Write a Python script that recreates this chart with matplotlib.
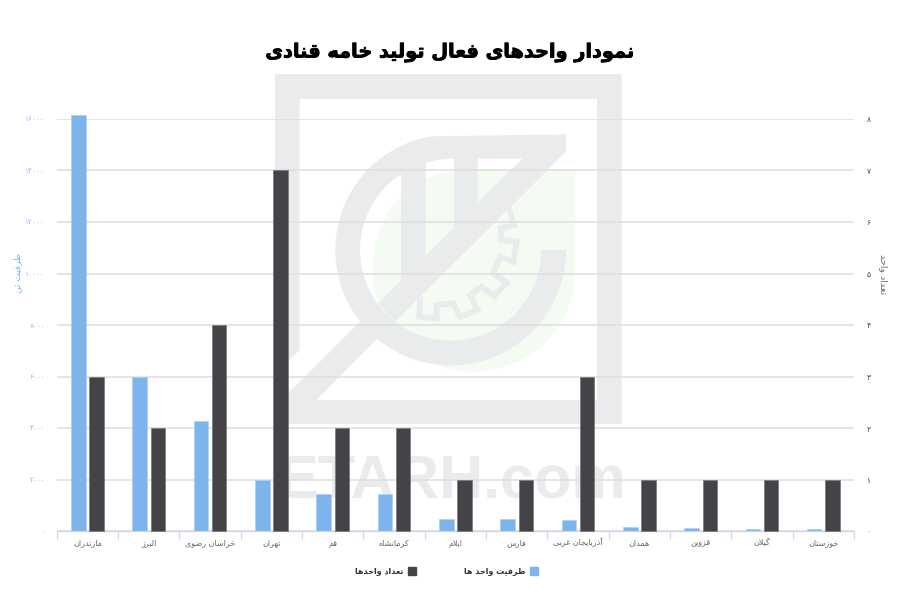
import numpy as np
from matplotlib import patheffects, pyplot as plt
from matplotlib.patches import Patch, PathPatch, Polygon, Wedge
from matplotlib.path import Path

categories = ["مازندران", "البرز", "خراسان رضوی", "تهران", "قم", "کرمانشاه", "ایلام",
              "فارس", "آذربایجان غربی", "همدان", "قزوین", "گیلان", "خوزستان"]
capacity = [16150, 6000, 4270, 2000, 1450, 1450, 460, 460, 430, 140, 110, 65, 65]
units = [3, 2, 4, 7, 2, 2, 1, 1, 3, 1, 1, 1, 1]
capacity_ticks = [0, 2000, 4000, 6000, 8000, 10000, 12000, 14000, 16000]
units_ticks = [0, 1, 2, 3, 4, 5, 6, 7, 8]

title = "نمودار واحدهای فعال تولید خامه قنادی"
capacity_name = "ظرفیت واحد ها"
units_name = "تعداد واحدها"
capacity_axis = "ظرفیت تن"
units_axis = "تعداد واحد"

BLUE = "#7cb5ec"
DARK = "#434348"
MARK = "#eaebed"

# matplotlib does no Arabic shaping, so pick presentation forms by hand
FOUR_FORMS = {"ب": 0xFE8F, "پ": 0xFB56, "ت": 0xFE95, "ج": 0xFE9D, "ح": 0xFEA1, "خ": 0xFEA5,
              "س": 0xFEB1, "ش": 0xFEB5, "ص": 0xFEB9, "ض": 0xFEBD, "ط": 0xFEC1, "ظ": 0xFEC5,
              "ع": 0xFEC9, "غ": 0xFECD, "ف": 0xFED1, "ق": 0xFED5, "ک": 0xFB8E, "گ": 0xFB92,
              "ل": 0xFEDD, "م": 0xFEE1, "ن": 0xFEE5, "ه": 0xFEE9, "ی": 0xFBFC}
TWO_FORMS = {"ا": 0xFE8D, "آ": 0xFE81, "د": 0xFEA9, "ذ": 0xFEAB, "ر": 0xFEAD, "ز": 0xFEAF,
             "ژ": 0xFB8A, "و": 0xFEED}


def shape(text):
    text = text.replace("لا", "\uFEFB")
    out = []
    for i, ch in enumerate(text):
        prev = text[i - 1] if i > 0 else " "
        nxt = text[i + 1] if i + 1 < len(text) else " "
        joins_prev = prev in FOUR_FORMS
        joins_next = nxt in FOUR_FORMS or nxt in TWO_FORMS or nxt == "\uFEFB"
        if ch == "\uFEFB":
            out.append("\uFEFC" if joins_prev else ch)
        elif ch in FOUR_FORMS:
            form = (1 if joins_prev else 0) if not joins_next else (3 if joins_prev else 2)
            out.append(chr(FOUR_FORMS[ch] + form))
        elif ch in TWO_FORMS:
            out.append(chr(TWO_FORMS[ch] + (1 if joins_prev else 0)))
        else:
            out.append(ch)
    return "".join(reversed(out))


def fa_digits(n):
    return "".join(chr(0x06F0 + int(d)) for d in str(n))


def zoomed(points):
    return [(260 + x / 3, 60 + y / 3) for x, y in points]


def ring_path(outer, *holes):
    verts, codes = [], []
    for i, loop in enumerate((outer, *holes)):
        # holes must wind the other way round
        loop = zoomed(loop)
        loop = loop if i == 0 else loop[::-1]
        verts += loop + [loop[0]]
        codes += [Path.MOVETO] + [Path.LINETO] * (len(loop) - 1) + [Path.CLOSEPOLY]
    return Path(verts, codes)


def draw_watermark(fig):
    bg = fig.add_axes([0, 0, 1, 1], zorder=0)
    bg.set_xlim(0, 900)
    bg.set_ylim(600, 0)
    bg.axis("off")

    blob = Path(zoomed([(946, 328), (600, 328), (440, 345), (338, 470), (338, 630),
                        (338, 800), (470, 935), (640, 935), (810, 935), (946, 800),
                        (946, 630), (946, 328)]),
                [Path.MOVETO, Path.LINETO] + [Path.CURVE4] * 9 + [Path.CLOSEPOLY])
    bg.add_patch(PathPatch(blob, fc="#f4fbf2", ec="none"))

    frame = ring_path([(45, 42), (45, 1092), (1085, 1092), (1085, 42)],
                      [(119, 117), (119, 870), (83, 905), (83, 1000), (119, 965),
                       (119, 1020), (1011, 1020), (1011, 117)])
    bg.add_patch(PathPatch(frame, fc=MARK, ec="none"))
    bg.add_patch(Polygon(zoomed([(300, 785), (350, 838), (170, 1020), (100, 1060), (60, 1025)]),
                         fc=MARK, ec="none"))

    cx, cy = zoomed([(572, 570)])[0]
    bg.add_patch(Wedge((cx, cy), 346 / 3, 0, 260, width=74 / 3, fc=MARK, ec="none"))
    body = ring_path([(512, 229), (423, 340), (423, 662), (355, 730), (405, 785), (918, 275), (918, 223)],
                     [(497, 303), (497, 588), (582, 503), (582, 295)],
                     [(653, 296), (653, 428), (787, 296)])
    bg.add_patch(PathPatch(body, fc=MARK, ec="none"))

    gear = zoomed([(745, 440), (762, 495), (722, 505), (725, 540), (770, 545), (760, 605),
                   (720, 590), (700, 640), (740, 668), (703, 708), (665, 680), (630, 705),
                   (652, 750), (600, 770), (580, 730), (530, 735), (530, 775), (478, 770),
                   (480, 720)])
    bg.plot(*zip(*gear), color=MARK, lw=4.2, solid_joinstyle="miter")

    bg.text(452, 498, "ETARH.com", color=MARK, fontsize=44, fontweight="bold",
            family="Liberation Sans", ha="center", va="baseline")


if __name__ == "__main__":
    plt.rcParams["font.family"] = ["DejaVu Sans"]
    fig = plt.figure(figsize=(9, 6), dpi=100)
    draw_watermark(fig)

    ax = fig.add_axes([56.7 / 900, 69 / 600, 797.3 / 900, 412 / 600], zorder=1)
    ax.patch.set_alpha(0)
    ax2 = ax.twinx()
    ax2.set_zorder(2)
    ax2.patch.set_alpha(0)

    x = np.arange(len(categories))
    ax.bar(x - 0.148, capacity, 0.236, color=BLUE, edgecolor="#a9d0f5", linewidth=0.5,
           clip_on=False, zorder=3)
    ax2.bar(x + 0.148, units, 0.236, color=DARK, edgecolor="#77777b", linewidth=0.5,
            clip_on=False, zorder=3)

    ax.set_xlim(-0.5, len(categories) - 0.5)
    ax.set_ylim(0, 16000)
    ax2.set_ylim(0, 8)

    ax.set_yticks(capacity_ticks, [fa_digits(v) for v in capacity_ticks])
    ax2.set_yticks(units_ticks, [fa_digits(v) for v in units_ticks])
    ax.tick_params(axis="y", length=0, pad=8.5, labelsize=5.2, labelcolor="#8fb8f2")
    ax2.tick_params(axis="y", length=0, pad=9, labelsize=5.5, labelcolor="#444444")

    ax.set_xticks(np.arange(len(categories) + 1) - 0.5)
    ax.set_xticklabels([])
    ax.set_xticks(x, [shape(c) for c in categories], minor=True)
    ax.tick_params(axis="x", which="major", length=5.5, width=0.8, color="#ccd6eb")
    ax.tick_params(axis="x", which="minor", length=0, pad=10.5, labelsize=5.8, labelcolor="#666666")
    # same baseline for every category name, tall letters or not
    for label in ax.get_xticklabels(minor=True):
        label.set_verticalalignment("baseline")
    ax2.tick_params(axis="x", length=0)

    ax.grid(axis="y", color="#dedede", linewidth=1.1)
    ax.set_axisbelow(True)
    for a in (ax, ax2):
        for side in ("top", "left", "right"):
            a.spines[side].set_visible(False)
        a.spines["bottom"].set_color("#ccd6eb")

    title_text = fig.text(0.5, 1 - 53 / 600, shape(title), fontsize=13.9, fontweight="bold",
                          color="black", ha="center", va="center")
    title_text.set_path_effects([patheffects.withStroke(linewidth=0.6, foreground="black")])
    fig.text(18 / 900, 1 - 273 / 600, shape(capacity_axis), rotation=90, fontsize=6.5, color=BLUE,
             ha="center", va="center")
    fig.text(883 / 900, 1 - 274 / 600, shape(units_axis), rotation=270, fontsize=6.8, color="#666666",
             ha="center", va="center")

    fig.legend(handles=[Patch(color=DARK), Patch(color=BLUE)],
               labels=[shape(units_name), shape(capacity_name)],
               ncol=2, markerfirst=False, frameon=False, loc="center",
               bbox_to_anchor=(446.5 / 900, 1 - 571 / 600),
               prop={"size": 5.8, "weight": "bold"}, labelcolor="#333333",
               handlelength=1.0, handleheight=1.2, handletextpad=0.5, columnspacing=6)

    fig.savefig("out.png", dpi=100)
